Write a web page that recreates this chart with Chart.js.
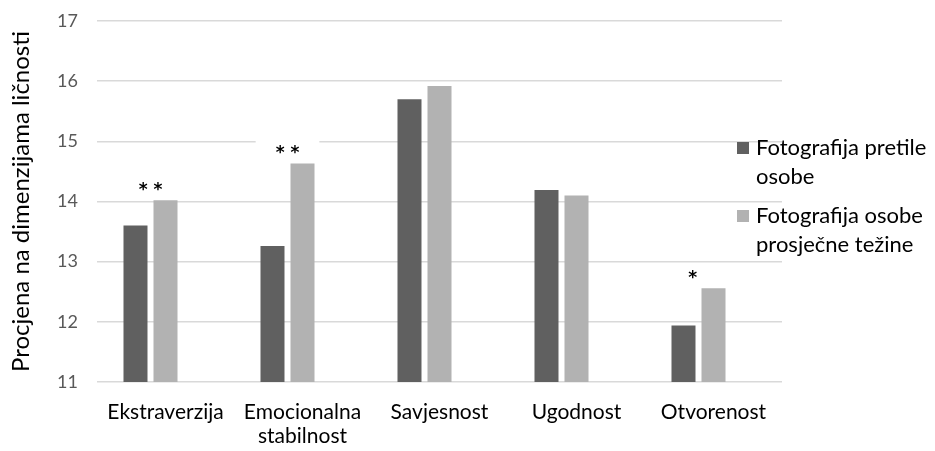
<!DOCTYPE html>
<html>
<head>
<meta charset="utf-8">
<script src="https://cdn.jsdelivr.net/npm/chart.js@4/dist/chart.umd.min.js"></script>
<style>
  html, body { margin: 0; padding: 0; background: #fff; }
  #wrap { width: 935px; height: 451px; }
</style>
</head>
<body>
<div id="wrap"><canvas id="chart" width="935" height="451"></canvas></div>
<script>
const categories = [['Ekstraverzija'], ['Emocionalna', 'stabilnost'], 'Savjesnost', 'Ugodnost', 'Otvorenost'];
const seriesNames = [['Fotografija pretile', 'osobe'], ['Fotografija osobe', 'prosječne težine']];
const obese = [13.6, 13.26, 15.7, 14.19, 11.94];
const average = [14.02, 14.63, 15.92, 14.1, 12.56];
const marks = ['* *', '* *', '', '', '*  '];
const yTicks = [11, 12, 13, 14, 15, 16, 17];

const FONT = 'Lato, "Open Sans", sans-serif';
const colors = ['#606060', '#b2b2b2'];

//significance stars above each pair of bars
const starsPlugin = {
  id: 'stars',
  afterDatasetsDraw(chart) {
    const ctx = chart.ctx;
    const m0 = chart.getDatasetMeta(0);
    const m1 = chart.getDatasetMeta(1);
    ctx.save();
    ctx.font = 'bold 17px "DejaVu Sans", sans-serif';
    ctx.textAlign = 'center';
    ctx.textBaseline = 'middle';
    marks.forEach((t, i) => {
      if (!t) return;
      const b0 = m0.data[i], b1 = m1.data[i];
      const x = (b0.x + b1.x) / 2;
      const y = Math.min(b0.y, b1.y) - 13;
      const w = ctx.measureText(t).width;
      ctx.fillStyle = '#fff';
      ctx.fillRect(x - w / 2 - 20, y - 10, w + 40, 20);
      ctx.fillStyle = '#000';
      ctx.fillText(t, x, y + 3);
    });
    ctx.restore();
  }
};

//legend with wrapped labels on the right
const legendPlugin = {
  id: 'sideLegend',
  afterDraw(chart) {
    const ctx = chart.ctx;
    const x = chart.chartArea.right - 45;
    let y = 148;
    ctx.save();
    ctx.font = '22px ' + FONT;
    ctx.textBaseline = 'middle';
    seriesNames.forEach((lines, i) => {
      ctx.fillStyle = colors[i];
      ctx.fillRect(x, y - 6, 12, 12);
      ctx.fillStyle = '#000';
      lines.forEach((ln, j) => ctx.fillText(ln, x + 19, y + j * 29));
      y += 68;
    });
    ctx.restore();
  }
};

new Chart(document.getElementById('chart'), {
  type: 'bar',
  data: {
    labels: categories,
    datasets: [
      { label: 'Fotografija pretile osobe', data: obese, backgroundColor: colors[0], categoryPercentage: 0.657, barPercentage: 0.8 },
      { label: 'Fotografija osobe prosječne težine', data: average, backgroundColor: colors[1], categoryPercentage: 0.657, barPercentage: 0.8 },
      { label: '', data: categories.map(() => null), categoryPercentage: 0.657, barPercentage: 0.8 }
    ]
  },
  options: {
    responsive: false,
    animation: false,
    layout: { padding: { top: 21, right: 153, left: 0, bottom: 0 } },
    plugins: { legend: { display: false }, tooltip: { enabled: false } },
    scales: {
      x: {
        grid: { display: false, drawTicks: false },
        border: { display: false },
        ticks: { color: '#000', font: { family: FONT, size: 21, lineHeight: 1.15 }, padding: 18, maxRotation: 0, autoSkip: false },
        afterFit(s) { s.height = 69; s.paddingLeft = 0; s.paddingRight = 0; }
      },
      y: {
        min: 11, max: 17,
        afterBuildTicks(s) { s.ticks = yTicks.map(v => ({ value: v })); },
        grid: { color: '#d9d9d9', lineWidth: 1.5, drawTicks: false },
        border: { display: false },
        ticks: { color: '#595959', font: { family: FONT, size: 18 }, padding: 19 },
        title: { display: true, text: 'Procjena na dimenzijama ličnosti', color: '#000', font: { family: FONT, size: 24 }, padding: { top: 7, bottom: 0 } },
        afterFit(s) { s.width = 97; s.paddingTop = 0; s.paddingBottom = 0; }
      }
    }
  },
  plugins: [starsPlugin, legendPlugin]
});
</script>
</body>
</html>
